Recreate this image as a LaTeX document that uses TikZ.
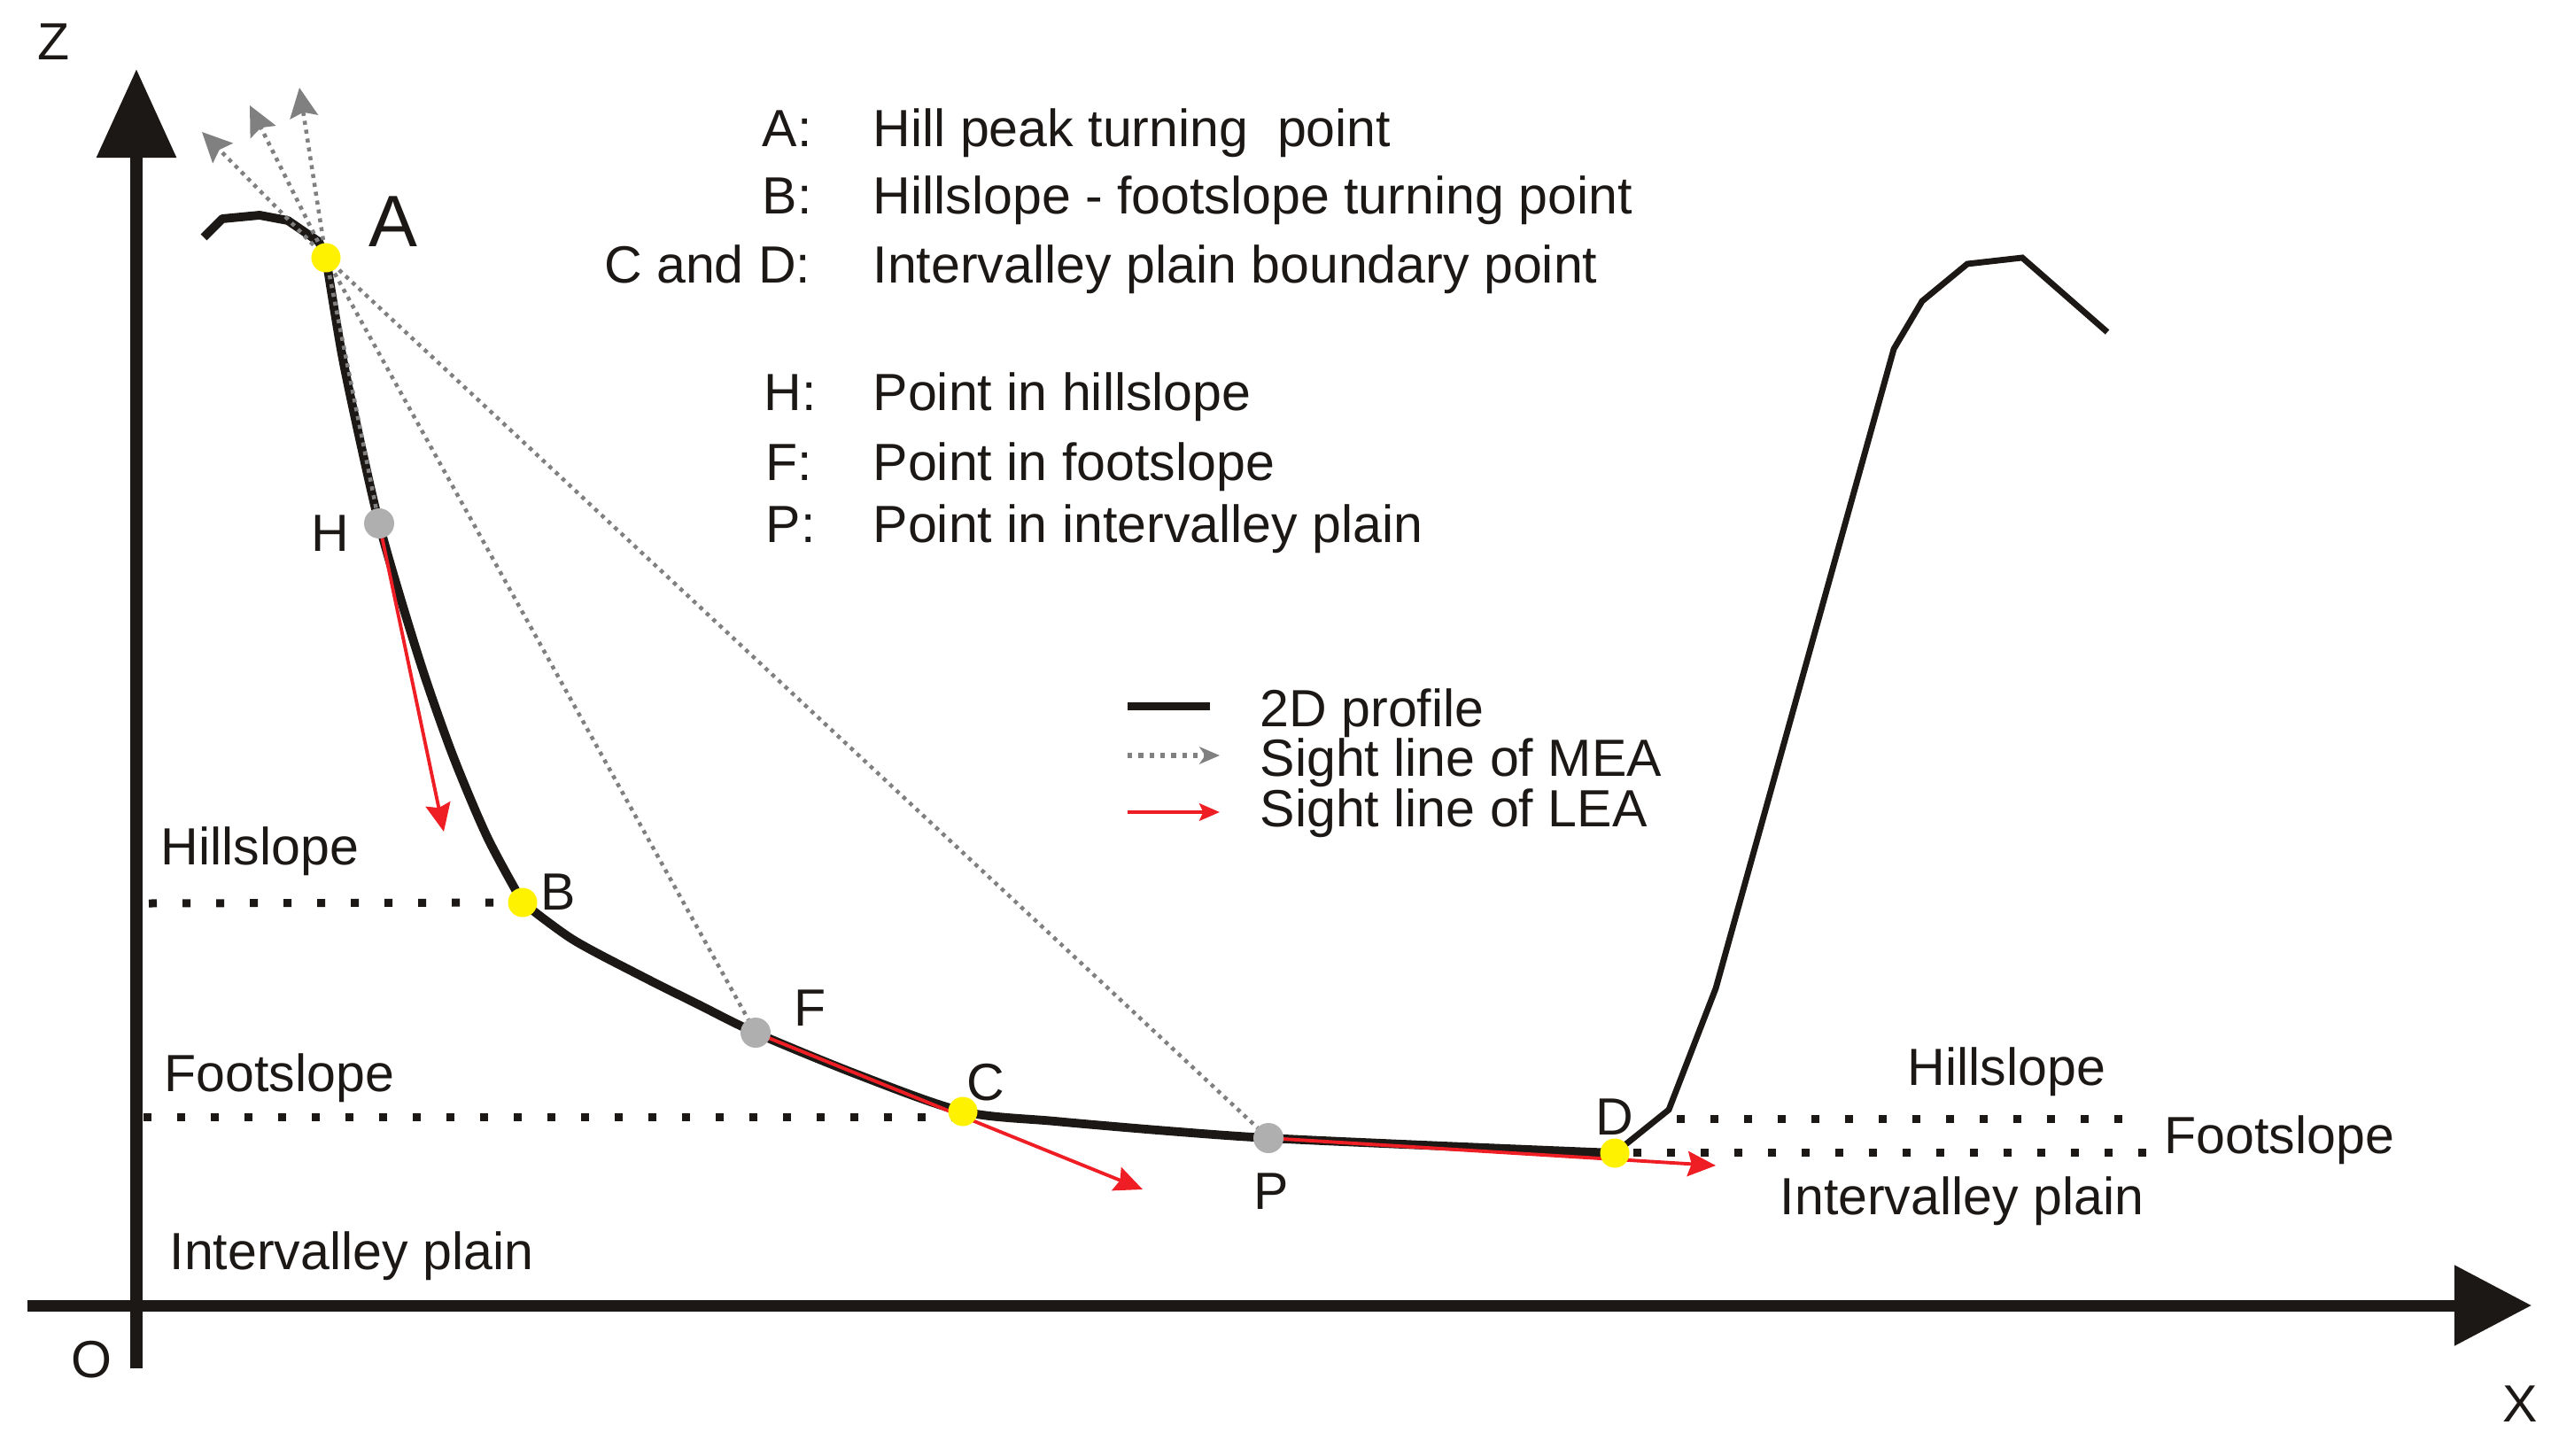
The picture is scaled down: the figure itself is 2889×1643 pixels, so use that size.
\documentclass[tikz,border=0pt]{standalone}
\usepackage{fontspec}
\setmainfont{Liberation Sans}
\usetikzlibrary{arrows.meta}
\definecolor{ink}{RGB}{28,24,22}
\definecolor{ptyellow}{RGB}{255,242,0}
\definecolor{ptgrey}{RGB}{175,175,175}
\definecolor{meagrey}{RGB}{128,128,128}
\definecolor{leared}{RGB}{238,30,36}
\begin{document}
\begin{tikzpicture}[x=0.01cm,y=-0.01cm,
  txt/.style={inner sep=0pt, font=\fontsize{16.8}{20}\selectfont, text=ink},
  bigtxt/.style={inner sep=0pt, font=\fontsize{23.4}{28}\selectfont, text=ink},
  axisline/.style={line width=3.7pt, draw=ink},
  profile/.style={line width=2.8pt, draw=ink, line join=round, line cap=butt},
  profthin/.style={line width=1.95pt, draw=ink, line join=miter},
  boundary/.style={line width=2.56pt, draw=ink, dash pattern=on 2.56pt off 8.25pt},
  mea/.style={line width=1.28pt, draw=meagrey, dash pattern=on 1.28pt off 1.6pt},
  meaarrow/.style={mea, -{Stealth[length=9.5pt,width=9pt,inset=1.5pt,fill=meagrey,color=meagrey]}},
  leaarrow/.style={line width=1.1pt, draw=leared, -{Stealth[length=9pt,width=8pt,inset=1.2pt,fill=leared,color=leared]}},
  ydot/.style={circle, fill=ptyellow, inner sep=0pt, minimum size=0.33cm},
  gdot/.style={circle, fill=ptgrey, inner sep=0pt, minimum size=0.34cm},
]
\useasboundingbox (0,0) rectangle (2889,1643);

% ---- key coordinates
\coordinate (A) at (368,291);
\coordinate (H) at (428,591);
\coordinate (B) at (590,1019);
\coordinate (F) at (853,1166);
\coordinate (C) at (1087,1255);
\coordinate (P) at (1432,1285);
\coordinate (D) at (1823,1302);
\coordinate (m1) at (228,149);
\coordinate (m2) at (282,119);
\coordinate (m3) at (338,99);
\coordinate (hTip) at (501,939);
\coordinate (cTip) at (1290,1343);
\coordinate (dTip) at (1937,1316);
\coordinate (Ztop) at (154,78);
\coordinate (Zbot) at (154,1545);
\coordinate (Xl) at (31,1474);
\coordinate (Xr) at (2858,1474);

% ---- axes
\draw[axisline, -{Triangle[length=28.5pt,width=24.8pt]}] (Zbot) -- (Ztop);
\draw[axisline, -{Triangle[length=24.8pt,width=25pt]}] (Xl) -- (Xr);

% ---- boundary dotted lines
\coordinate (hbL) at (168,1020);
\coordinate (fbL) at (162,1261);
\coordinate (fbR) at (1078,1261);
\coordinate (hbR1) at (1893,1263);
\coordinate (hbR2) at (2402,1263);
\coordinate (fbR1) at (1844,1301);
\coordinate (fbR2) at (2425,1301);
\draw[boundary] (hbL) -- (B);
\draw[boundary] (fbL) -- (fbR);
\draw[boundary] (hbR1) -- (hbR2);
\draw[boundary] (fbR1) -- (fbR2);

% ---- 2D profile
\draw[profile] (230,268) -- (251,247) -- (293,243) -- (325,249) -- (360,273) -- (A)
  -- plot[smooth, tension=0.5] coordinates {(A) (386,400) (407,500) (H) (452,675) (480,765) (512,855) (550,945) (B)};
\draw[profile] plot[smooth, tension=0.5] coordinates {(B) (647,1061) (724,1102) (788,1134) (F) (970,1214) (C) (1191,1266) (1319,1277) (P) (1630,1294) (D)};
\draw[profthin] (D) -- (1884,1253) -- (1937,1116) -- (2138,394) -- (2170,340) -- (2221,298) -- (2283,291) -- (2379,375);

% ---- sight lines of LEA
\draw[leaarrow] (H) -- (hTip);
\draw[leaarrow] (F) -- (cTip);
\draw[leaarrow] (P) -- (dTip);

% ---- sight lines of MEA
\draw[meaarrow] (A) -- (m1);
\draw[meaarrow] (A) -- (m2);
\draw[meaarrow] (A) -- (m3);
\draw[mea] (A) -- (H);
\draw[mea] (A) -- (F);
\draw[mea] (A) -- (P);

% ---- points
\node[ydot] (Adot) at (A) {};
\node[gdot] (Hdot) at (H) {};
\node[ydot] (Bdot) at (B) {};
\node[gdot] (Fdot) at (F) {};
\node[ydot] (Cdot) at (C) {};
\node[gdot] (Pdot) at (P) {};
\node[ydot] (Ddot) at (D) {};

% ---- point labels
\node[bigtxt] (Alab) at (444,250) {A};
\node[txt] (Hlab) at (373,602) {H};
\node[txt] (Blab) at (630,1007) {B};
\node[txt] (Flab) at (915,1138) {F};
\node[txt] (Clab) at (1113,1222) {C};
\node[txt] (Plab) at (1435,1345) {P};
\node[txt] (Dlab) at (1823,1261) {D};

% ---- axis labels
\node[txt] (Zlab) at (61,47) {Z};
\node[txt] (Xlab) at (2845,1585) {X};
\node[txt] (Olab) at (103,1535) {O};

% ---- zone labels
\node[txt, anchor=base west] (hsL) at (181,976) {Hillslope};
\node[txt, anchor=base west] (fsL) at (185,1232) {Footslope};
\node[txt, anchor=base west] (ipL) at (191,1433) {Intervalley plain};
\node[txt, anchor=base west] (hsR) at (2153,1225) {Hillslope};
\node[txt, anchor=base west] (fsR) at (2443,1302) {Footslope};
\node[txt, anchor=base west] (ipR) at (2009,1371) {Intervalley plain};

% ---- definitions legend
\node[txt, anchor=base west] (kA) at (860,166) {A:};
\node[txt, anchor=base west] (kB) at (860,242) {B:};
\node[txt, anchor=base east] (kCD) at (916,320) {C and D:};
\node[txt, anchor=base west] (kH) at (862,464) {H:};
\node[txt, anchor=base west] (kF) at (864,542) {F:};
\node[txt, anchor=base west] (kP) at (864,612) {P:};
\node[txt, anchor=base west] (dA) at (985,166) {Hill peak turning\ \ point};
\node[txt, anchor=base west] (dB) at (985,242) {Hillslope - footslope turning point};
\node[txt, anchor=base west] (dCD) at (985,320) {Intervalley plain boundary point};
\node[txt, anchor=base west] (dH) at (985,464) {Point in hillslope};
\node[txt, anchor=base west] (dF) at (985,542) {Point in footslope};
\node[txt, anchor=base west] (dP) at (985,612) {Point in intervalley plain};

% ---- line legend
\coordinate (l1a) at (1273,797);
\coordinate (l1b) at (1366,797);
\coordinate (l2a) at (1273,853);
\coordinate (l2b) at (1377,853);
\coordinate (l3a) at (1273,917);
\coordinate (l3b) at (1377,917);
\draw[ink, line width=2.56pt] (l1a) -- (l1b);
\draw[line width=1.5pt, draw=meagrey, dash pattern=on 1.5pt off 2pt, -{Stealth[length=6.5pt,width=5.5pt,inset=1.8pt,fill=meagrey,color=meagrey]}] (l2a) -- (l2b);
\draw[line width=1.3pt, draw=leared, -{Stealth[length=6.5pt,width=5.5pt,inset=1.2pt,fill=leared,color=leared]}] (l3a) -- (l3b);
\node[txt, anchor=base west] (t1) at (1422,820) {2D profile};
\node[txt, anchor=base west] (t2) at (1422,876) {Sight line of MEA};
\node[txt, anchor=base west] (t3) at (1422,933) {Sight line of LEA};
\end{tikzpicture}
\end{document}
